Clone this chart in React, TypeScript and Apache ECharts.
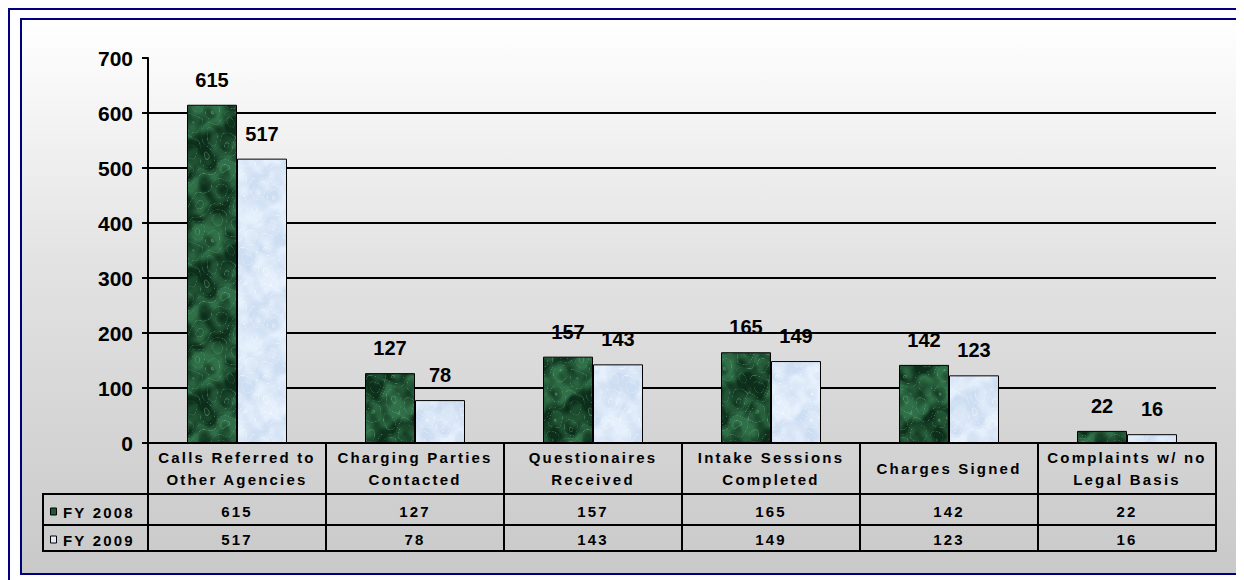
import React, { useEffect, useRef } from "react";
import * as echarts from "echarts";

const categories = [
  "Calls Referred to\nOther Agencies",
  "Charging Parties\nContacted",
  "Questionaires\nReceived",
  "Intake Sessions\nCompleted",
  "Charges Signed",
  "Complaints w/ no\nLegal Basis",
];
const fy2008 = [615, 127, 157, 165, 142, 22];
const fy2009 = [517, 78, 143, 149, 123, 16];
const seriesNames = ["FY 2008", "FY 2009"];
const yMin = 0;
const yMax = 700;
const yInterval = 100;

// texture layers: [fx, fy, phase, weight]
const layers = [
  [1, 2, 0.3, 1.0],
  [3, -1, 1.7, 0.8],
  [2, 5, 2.9, 0.6],
  [-5, 3, 0.8, 0.5],
  [7, 4, 4.1, 0.35],
  [-4, 9, 5.3, 0.3],
  [11, -6, 2.2, 0.2],
  [9, 13, 3.6, 0.15],
];

function marble(dark: number[], base: number[], hi: number[], veinAmt: number, size = 128) {
  const c = document.createElement("canvas");
  c.width = size;
  c.height = size;
  const ctx = c.getContext("2d")!;
  const img = ctx.createImageData(size, size);
  const k = (Math.PI * 2) / size;
  let wsum = 0;
  for (const l of layers) wsum += l[3];
  for (let y = 0; y < size; y++) {
    for (let x = 0; x < size; x++) {
      const warp = 1.4 * Math.sin(k * (2 * x + 3 * y) + 0.7) + 0.9 * Math.sin(k * (5 * x - 2 * y) + 2.1);
      let n = 0;
      for (const l of layers) n += l[3] * Math.sin(k * (l[0] * x + l[1] * y) + l[2] + warp * 0.6);
      n /= wsum; // approx -1..1
      const cloud = Math.max(0, Math.min(1, 0.5 + n * 1.1));
      const t = Math.sin(k * (x + 2 * y) + 2.2 * warp + 3 * n);
      const vein = Math.pow(1 - Math.abs(t), 10);
      const i = (y * size + x) * 4;
      for (let ch = 0; ch < 3; ch++) {
        const v = dark[ch] + (base[ch] - dark[ch]) * cloud;
        img.data[i + ch] = Math.round(v + (hi[ch] - v) * vein * veinAmt);
      }
      img.data[i + 3] = 255;
    }
  }
  ctx.putImageData(img, 0, 0);
  return c;
}

const css = `
#root text[style*="15px"] { letter-spacing: 2.2px; }
`;

export default function App() {
  const ref = useRef<HTMLDivElement>(null);
  useEffect(() => {
    if (!ref.current) return;
    const chart = echarts.init(ref.current, undefined, { renderer: "svg" });
    const green = marble([12, 46, 26], [48, 112, 72], [125, 180, 142], 0.5);
    const light = marble([206, 222, 242], [230, 240, 252], [250, 252, 255], 0.6);
    const black = "#000";
    const axisFont = { fontFamily: "Arial", fontWeight: "bold" as const, color: black };
    const baseAxis = {
      type: "category" as const,
      data: categories,
      position: "bottom" as const,
      axisLine: { show: true, lineStyle: { color: black, width: 2 } },
      splitLine: { show: false },
    };
    const rows = [fy2008, fy2009];
    const keyColors = ["#1f5a33", "#e0ebf7"];
    const rowCenters = [503, 531];
    chart.setOption({
      animation: false,
      backgroundColor: "#ffffff",
      grid: { left: 140, top: 50, width: 1068, height: 385, containLabel: false },
      xAxis: [
        {
          ...baseAxis,
          axisTick: { show: true, length: 51, lineStyle: { color: black, width: 2 } },
          axisLabel: {
            ...axisFont,
            interval: 0,
            margin: 25,
            verticalAlign: "middle",
            fontSize: 15,
            lineHeight: 22,
          },
        },
        {
          ...baseAxis,
          offset: 51,
          axisTick: { show: true, length: 31, lineStyle: { color: black, width: 2 } },
          axisLabel: {
            ...axisFont,
            interval: 0,
            margin: 17,
            verticalAlign: "middle",
            fontSize: 15,
            formatter: (_v: string, i: number) => String(fy2008[i]),
          },
        },
        {
          ...baseAxis,
          offset: 82,
          axisTick: { show: true, length: 26, lineStyle: { color: black, width: 2 } },
          axisLabel: {
            ...axisFont,
            interval: 0,
            margin: 14,
            verticalAlign: "middle",
            fontSize: 15,
            formatter: (_v: string, i: number) => String(fy2009[i]),
          },
        },
        {
          ...baseAxis,
          offset: 108,
          axisTick: { show: false },
          axisLabel: { show: false },
        },
      ],
      yAxis: {
        type: "value",
        min: yMin,
        max: yMax,
        interval: yInterval,
        axisLine: { show: true, lineStyle: { color: black, width: 2 } },
        axisTick: { show: true, length: 6, lineStyle: { color: black, width: 2 } },
        axisLabel: { ...axisFont, fontSize: 21, margin: 15 },
        splitLine: { show: true, showMaxLine: false, lineStyle: { color: black, width: 2 } },
      },
      series: [
        {
          name: seriesNames[0],
          type: "bar",
          data: fy2008,
          barWidth: 50,
          barGap: "0%",
          itemStyle: { color: { image: green, repeat: "repeat" }, borderColor: black, borderWidth: 1 },
          label: { show: true, position: "top", distance: 15, ...axisFont, fontSize: 20 },
        },
        {
          name: seriesNames[1],
          type: "bar",
          data: fy2009,
          barWidth: 50,
          barGap: "0%",
          itemStyle: { color: { image: light, repeat: "repeat" }, borderColor: black, borderWidth: 1 },
          label: { show: true, position: "top", distance: 15, ...axisFont, fontSize: 20 },
        },
      ],
      graphic: [
        {
          type: "rect",
          z: -100,
          silent: true,
          shape: { x: 1, y: 1, width: 1400, height: 800 },
          style: { fill: "#ffffff", stroke: "#00007f", lineWidth: 2 },
        },
        {
          type: "rect",
          z: -99,
          silent: true,
          shape: { x: 13, y: 11, width: 1216, height: 555 },
          style: {
            fill: new echarts.graphic.LinearGradient(0, 0, 0, 1, [
              { offset: 0, color: "#ffffff" },
              { offset: 0.45, color: "#e2e2e2" },
              { offset: 1, color: "#c9c9c9" },
            ]),
            stroke: "#00007f",
            lineWidth: 2,
          },
        },
        { type: "line", z: 10, shape: { x1: 35, y1: 486, x2: 141, y2: 486 }, style: { stroke: black, lineWidth: 2 } },
        { type: "line", z: 10, shape: { x1: 35, y1: 517, x2: 141, y2: 517 }, style: { stroke: black, lineWidth: 2 } },
        { type: "line", z: 10, shape: { x1: 35, y1: 543, x2: 141, y2: 543 }, style: { stroke: black, lineWidth: 2 } },
        { type: "line", z: 10, shape: { x1: 35, y1: 485, x2: 35, y2: 544 }, style: { stroke: black, lineWidth: 2 } },
        ...rows.flatMap((_r, i) => [
          {
            type: "rect",
            z: 10,
            shape: { x: 42.5, y: rowCenters[i] - 3, width: 6, height: 7 },
            style: { fill: keyColors[i], stroke: black, lineWidth: 1 },
          },
          {
            type: "text",
            z: 10,
            style: {
              x: 55,
              y: rowCenters[i] + 1,
              text: seriesNames[i],
              font: "bold 15px Arial",
              fill: black,
              verticalAlign: "middle",
            },
          },
        ]),
      ],
    });
    return () => chart.dispose();
  }, []);
  return (
    <>
      <style>{css}</style>
      <div ref={ref} style={{ width: 1236, height: 572 }} />
    </>
  );
}
